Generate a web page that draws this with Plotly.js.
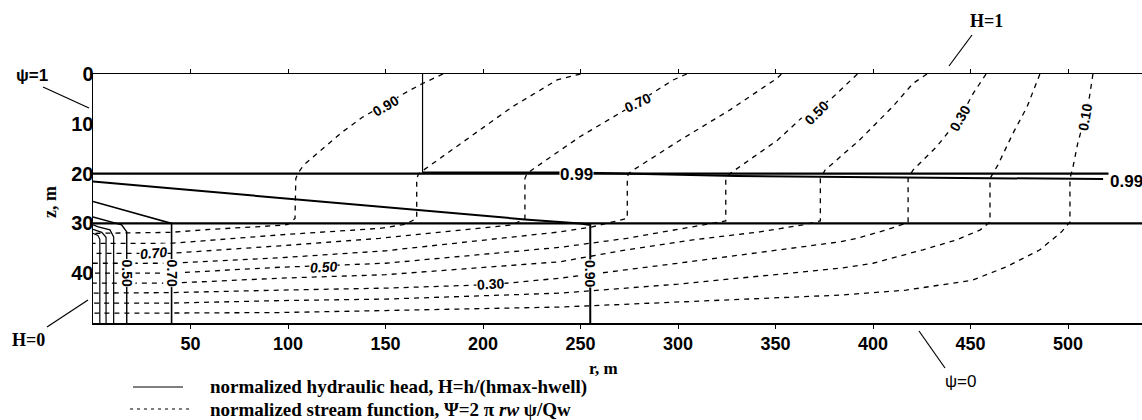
<!DOCTYPE html>
<html>
<head>
<meta charset="utf-8">
<script src="https://cdn.plot.ly/plotly-3.0.1.min.js"></script>
<style>html,body{margin:0;padding:0;background:#fff;}#chart{width:1142px;height:420px;}</style>
</head>
<body>
<div id="chart"></div>
<script>
// ---------- data (r in m, z in m) ----------
// stream function contours (dashed), psi = 0.9 ... 0.1
const psi90_r = [179.5,169,161,150,138.5,128,118,108,105,104,103.6,100,96,60,40,0];
const psi90_z = [0,1.9,3.6,6,8.6,11.6,14.9,18.3,20,21,29,30.2,30.4,31.2,31.8,32];
const psi80_r = [250,238,215,193,171.3,167,166,166,160,147,96,40,0];
const psi80_z = [0,1.2,6.6,12.7,18.7,20,21,29,30.2,31,32.3,34,34];
const psi70_r = [304.5,297.5,279,265,249.7,227.5,222.5,221.5,221.5,215,181,147,96,40,0];
const psi70_z = [0,1.2,5.8,9,12.6,18.6,20,21,29,30.3,31.7,33,34.5,36,36];
const psi60_r = [353,351,326.7,301,277,274.5,274,274,256,239.5,150,96,40,0];
const psi60_z = [0,0.8,7.2,13.3,19.3,20,21,29,30.7,31.7,35.5,36.9,38,38];
const psi50_r = [392,378,364,351,327,324.5,324.5,307.7,273.7,239.5,150,118,96,40,0];
const psi50_z = [0,5.2,8.6,13.3,19.9,21,29.5,30.7,33,34.8,38,38.5,38.8,40,40];
const psi40_r = [427.7,420.5,410,393,375.4,373,373,364,342,307.7,273.7,239.5,150,96,40,0];
const psi40_z = [0,1.9,6.6,13.3,19.3,21,29.5,30.3,31.7,33.3,35.3,37.7,40.3,41,42,42];
const psi30_r = [458,451.4,444.6,432.6,420.5,418,418,414,407,391.6,383,300,239.5,204,150,96,40,0];
const psi30_z = [0,3.9,8.8,14.6,19.3,21,29.8,30.3,31.3,33,33.7,38,41,42.3,43,43.4,43.9,44];
const psi20_r = [485.6,479,471.8,464,460,460,455,443,425.6,400,383,300,239.5,150,96,40,0];
const psi20_z = [0,6.6,11.9,18.3,21,29.7,31.3,33.3,35.3,38,39,42.2,44,45.2,45.5,46,46];
const psi10_r = [512.8,511,508.7,505,502.6,501,501,496.7,485.6,468.5,451,434,417,383,300,239.5,150,96,40,0];
const psi10_z = [0,4.6,8.6,13.9,18.6,21,29.7,31.7,35.3,38.7,41.4,42.4,43.4,44.4,45.7,46.8,47.5,47.9,48,48];

// normalized hydraulic head contours (solid)
const h99v_r = [169,169];
const h99v_z = [0,19.8];
const h99_r = [169,248,330,440,518];
const h99_z = [19.8,19.8,20.5,20.9,21.1];
const h90_r = [0,98.5,166,221.5,250,255,255];
const h90_z = [21.6,25,27.2,29.2,30,30.3,50];
const h70_r = [0,40.3,40.3];
const h70_z = [25.6,30,50];
const h50_r = [0,9.6,14.7,17.3,17.3];
const h50_z = [28.7,29.7,30.3,31.7,50];
const h30_r = [0,2.7,8.7,10.6,10.6];
const h30_z = [30.3,30.7,31.3,32.7,50];
const h20_r = [0,4.5,6.7,6.7];
const h20_z = [31.2,31.8,32.8,50];
const h10_r = [0,2.5,3.5,3.5];
const h10_z = [32,32.4,33.2,50];

// layer boundaries
const layer_r = [0,540];
const layer1_z = [20,20];
const layer2_z = [30,30];

// axis ticks
const xTicks = [50,100,150,200,250,300,350,400,450,500];
const yTicks = [0,10,20,30,40];

// ---------- traces ----------
const DASH = '5px,5px';
function stream(r,z){return {x:r,y:z,mode:'lines',type:'scatter',hoverinfo:'skip',line:{color:'#000',width:1.3,dash:DASH}};}
function head(r,z,w){return {x:r,y:z,mode:'lines',type:'scatter',hoverinfo:'skip',line:{color:'#000',width:w||1.4}};}

const traces = [
  head(layer_r,layer1_z,2.2), head(layer_r,layer2_z,2.4),
  stream(psi90_r,psi90_z), stream(psi80_r,psi80_z), stream(psi70_r,psi70_z),
  stream(psi60_r,psi60_z), stream(psi50_r,psi50_z), stream(psi40_r,psi40_z),
  stream(psi30_r,psi30_z), stream(psi20_r,psi20_z), stream(psi10_r,psi10_z),
  head(h99v_r,h99v_z,1.2), head(h99_r,h99_z,2), head(h90_r,h90_z,2), head(h70_r,h70_z,1.6),
  head(h50_r,h50_z,1.4), head(h30_r,h30_z,1.2), head(h20_r,h20_z,1.2), head(h10_r,h10_z,1.2)
];

// ---------- layout helpers (pixel -> paper) ----------
const L=93, R=1142, T=74, B=323;
const PX = p => (p-L)/(R-L);
const PY = p => (B-p)/(B-T);

const SANS = 'Liberation Sans, Arial, sans-serif';
const SERIF = 'Liberation Serif, Times New Roman, serif';

function lab(x,y,t,ang,size,extra){
  return Object.assign({x:x,y:y,xref:'x',yref:'y',text:t,showarrow:false,textangle:ang||0,
    xanchor:'center',yanchor:'middle',
    font:{family:SANS,size:size||14,color:'#000',weight:'bold'},bgcolor:'#fff',borderpad:0},extra||{});
}
function ptxt(px,py,t,font,extra){
  return Object.assign({x:PX(px),y:PY(py),xref:'paper',yref:'paper',text:t,showarrow:false,
    xanchor:'center',yanchor:'middle',font:font},extra||{});
}
function pline(x0,y0,x1,y1,dash){
  return {type:'line',xref:'paper',yref:'paper',x0:PX(x0),y0:PY(y0),x1:PX(x1),y1:PY(y1),
    line:{color:'#000',width:1.2,dash:dash||'solid'}};
}
const ITAL = {family:SANS,size:14,color:'#000',weight:'bold',style:'italic'};

const annotations = [
  // stream labels, upper layer
  lab(150,6.4,'0.90',-30,14),
  lab(279,5.8,'0.70',-25,14),
  lab(371,7.8,'0.50',-45,14),
  lab(444.6,8.8,'0.30',-60,14),
  lab(508.7,8.6,'0.10',-80,14),
  // stream labels, lower layer
  lab(31,36,'0.70',-5,14,{font:ITAL}),
  lab(118,38.7,'0.50',-3,14,{font:ITAL}),
  lab(204,42.2,'0.30',-3,14),
  // head labels
  lab(248,20.2,'0.99',0,17),
  lab(17.3,40,'0.50',90,14),
  lab(40.3,40,'0.70',90,14),
  lab(255,40,'0.90',90,14),
  ptxt(1126,181,'0.99',{family:SANS,size:17,color:'#000',weight:'bold'},{bgcolor:'#fff'}),
  // boundary labels
  ptxt(32,75,'ψ=1',{family:SANS,size:17,color:'#000',weight:'bold'}),
  ptxt(986,21,'H=1',{family:SERIF,size:18,color:'#000',weight:'bold'}),
  ptxt(28,340,'H=0',{family:SERIF,size:18,color:'#000',weight:'bold'}),
  ptxt(961,381,'ψ=0',{family:SANS,size:17,color:'#000'}),
  // axis titles
  ptxt(50,202,'z, m',{family:SERIF,size:18,color:'#000',weight:'bold'},{textangle:-90}),
  ptxt(603,368,'r, m',{family:SERIF,size:17,color:'#000',weight:'bold'}),
  // legend
  ptxt(208,387,'normalized hydraulic head, H=h/(hmax-hwell)',{family:SERIF,size:19,color:'#000',weight:'bold'},{xanchor:'left'}),
  ptxt(208,409,'normalized stream function, Ψ=2 π <i>rw</i> ψ/Qw',{family:SERIF,size:19,color:'#000',weight:'bold'},{xanchor:'left'})
];

const shapes = [
  pline(43,87,89,108),
  pline(972,35,949,66),
  pline(47,327,88,300),
  pline(919,331,945,368),
  pline(133,387,183,387),
  pline(130,409,190,409,'3px,4px')
];

const xFont = {family:SANS,size:18,color:'#000',weight:'bold'};
const yFont = {family:SANS,size:20,color:'#000',weight:'bold'};
const layout = {
  width:1142,height:420,
  margin:{l:L,r:0,t:T,b:420-B,pad:0},
  paper_bgcolor:'#fff',plot_bgcolor:'#fff',
  showlegend:false,
  xaxis:{range:[0,(R-L)/1.95],tickvals:xTicks,ticktext:xTicks.map(String),showgrid:false,zeroline:false,
    showline:true,linecolor:'#000',linewidth:1.5,mirror:'ticks',ticks:'outside',ticklen:4,tickcolor:'#000',
    tickfont:xFont,fixedrange:true},
  yaxis:{range:[50,0],tickvals:yTicks,ticktext:yTicks.map(String),showgrid:false,zeroline:false,
    showline:true,linecolor:'#000',linewidth:1.5,ticks:'outside',ticklen:2,tickcolor:'#000',
    ticklabelstandoff:-8,tickfont:yFont,fixedrange:true},
  annotations:annotations,
  shapes:shapes
};

Plotly.newPlot('chart',traces,layout,{staticPlot:true,displayModeBar:false});
</script>
</body>
</html>
